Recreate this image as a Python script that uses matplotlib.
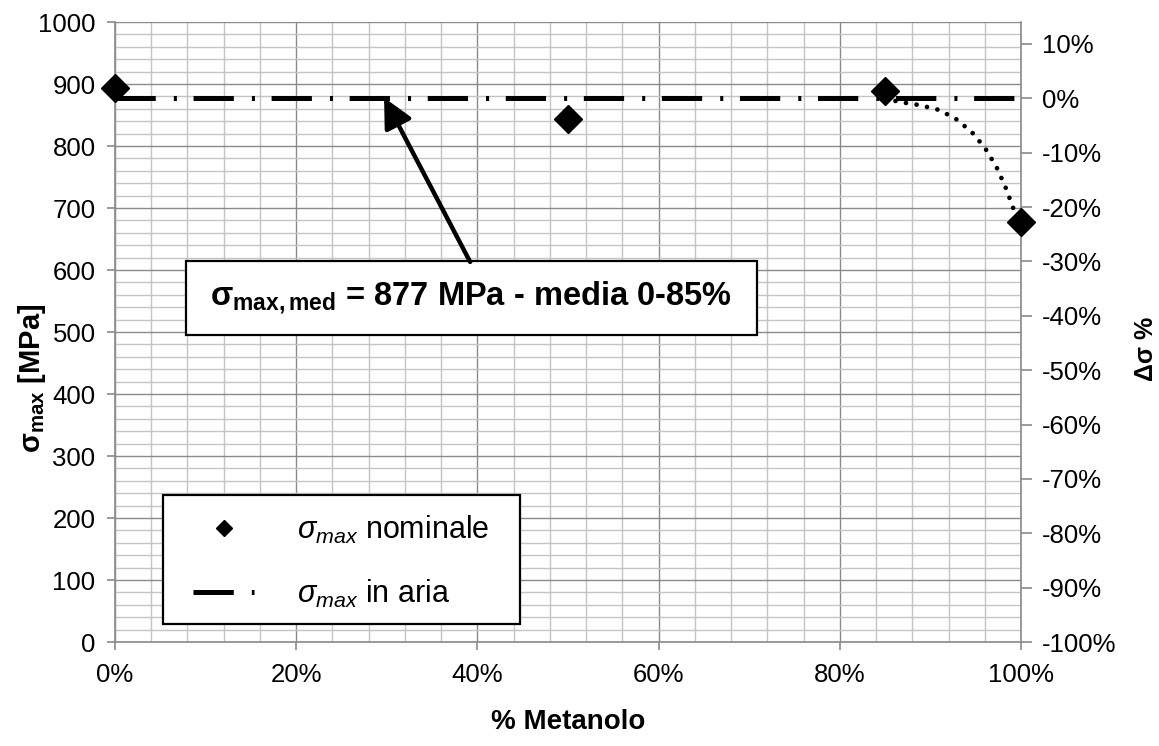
import matplotlib
matplotlib.use("Agg")
import matplotlib.pyplot as plt
from matplotlib.ticker import MultipleLocator, FuncFormatter
from matplotlib.patches import Rectangle
from matplotlib.lines import Line2D

plt.rcParams['font.family'] = ['Liberation Sans', 'DejaVu Sans']
plt.rcParams['mathtext.fontset'] = 'custom'
plt.rcParams['mathtext.rm'] = 'Liberation Sans'
plt.rcParams['mathtext.it'] = 'Liberation Sans:italic'
plt.rcParams['mathtext.bf'] = 'Liberation Sans:bold'
plt.rcParams['lines.scale_dashes'] = False

# ---- data ----
metanolo = [0, 50, 85, 100]                 # % methanol
sigma_nominale = [894, 844, 888, 677]       # MPa
sigma_aria = 877                            # MPa, mean 0-85%
aria_x = [0, 100]
trend_x = [85, 86.6, 88.8, 91.0, 93.0, 94.8, 96.2, 97.4, 98.3, 99.1, 100]
trend_y = [877, 871, 866, 858, 842, 819, 793, 763, 733, 702, 652]
x_ticks = [0, 20, 40, 60, 80, 100]
y_ticks = [0, 100, 200, 300, 400, 500, 600, 700, 800, 900, 1000]
dsig_ticks = [-100, -90, -80, -70, -60, -50, -40, -30, -20, -10, 0, 10]

W, H = 1159, 746
X0, X1, Y0, Y1 = 115, 1021, 642, 22       # plot area in pixels
AW, AH = X1 - X0, Y0 - Y1

def axc(px, py):
    return ((px - X0) / AW, (Y0 - py) / AH)

fig = plt.figure(figsize=(W/100, H/100), dpi=100)
ax = fig.add_axes([X0/W, 1-Y0/H, AW/W, AH/H])

ax.set_xlim(0, 100)
ax.set_ylim(0, 1000)
ax.set_xticks(x_ticks)
ax.set_yticks(y_ticks)
ax.xaxis.set_minor_locator(MultipleLocator(4))
ax.yaxis.set_minor_locator(MultipleLocator(20))
ax.xaxis.set_major_formatter(FuncFormatter(lambda v, p: f"{v:.0f}%"))
ax.grid(which='major', color='#8a8a8a', lw=1.0, zorder=0)
ax.grid(which='minor', color='#c4c4c4', lw=1.0, zorder=0)
ax.set_axisbelow(True)
ax.spines['top'].set_visible(False)
for s in ['left', 'bottom', 'right']:
    ax.spines[s].set_color('#8a8a8a')
    ax.spines[s].set_linewidth(1.2)
ax.tick_params(which='major', direction='out', length=6, width=1.2, color='#8a8a8a',
               labelsize=18.5, pad=8)
ax.tick_params(which='minor', length=0)
ax.tick_params(axis='x', pad=9)

# mean line (dash-dot)
dd = (0, (29, 13, 2.2, 12))
ax.plot(aria_x, [sigma_aria]*len(aria_x), color='black', lw=3.6, linestyle=dd,
        dash_capstyle='butt', zorder=3)
# dotted trend
ax.plot(trend_x, trend_y, color='black', lw=3.4, linestyle=(0, (0.01, 7.7)),
        dash_capstyle='round', zorder=3)
# diamonds
ax.plot(metanolo, sigma_nominale, linestyle='none', marker='D', markersize=14,
        color='black', zorder=4, clip_on=False)

ax.set_xlabel('% Metanolo', fontsize=20, fontweight='bold', labelpad=16)
ax.set_ylabel(r'$\mathbf{σ_{max}}$ [MPa]', fontsize=21, fontweight='bold')
ax.yaxis.set_label_coords(-0.074, 0.426)

# secondary axis
ax2 = ax.twinx()
ax2.set_ylim((0/sigma_aria - 1)*100, (1000/sigma_aria - 1)*100)
ax2.set_yticks(dsig_ticks)
ax2.yaxis.set_major_formatter(FuncFormatter(lambda v, p: f"{v:.0f}%"))
for s in ax2.spines.values():
    s.set_visible(False)
ax2.tick_params(direction='out', length=8, width=1.2, color='#8a8a8a', labelsize=18.5, pad=7)
ax2.set_ylabel('Δσ %', fontsize=18, fontweight='bold', rotation=90)
ax2.yaxis.set_label_coords((1134-X0)/AW, 0.4726)

# annotation box + arrow
bx0, by0 = axc(186, 335)
bx1, by1 = axc(757, 261)
ax.add_patch(Rectangle((bx0, by0), bx1-bx0, by1-by0, transform=ax.transAxes,
                       facecolor='white', edgecolor='black', lw=1.6, zorder=5))
tx, ty = axc(471, 298)
ax.text(tx, ty, r'$\mathbf{σ_{max,med}}$ = 877 MPa - media 0-85%',
        transform=ax.transAxes, ha='center', va='center', fontsize=23.5,
        fontweight='bold', zorder=6)
ax.annotate('', xy=(29.7, 878), xytext=(39.2, 613),
            arrowprops=dict(arrowstyle='-|>,head_length=0.9,head_width=0.45', lw=3.2,
                            color='black', shrinkA=0, shrinkB=0, mutation_scale=20),
            zorder=6)

# legend (frame drawn separately)
lx0, ly0 = axc(163, 624)
lx1, ly1 = axc(520, 495)
ax.add_patch(Rectangle((lx0, ly0), lx1-lx0, ly1-ly0, transform=ax.transAxes,
                       facecolor='white', edgecolor='black', lw=1.6, zorder=6))
h1 = Line2D([], [], linestyle='none', marker='D', markersize=8, color='black')
h2 = Line2D([], [], color='black', lw=3.6, linestyle=dd, dash_capstyle='butt')
leg = ax.legend([h1, h2], [r'$σ_{max}$ nominale', r'$σ_{max}$ in aria'],
                loc='upper left', bbox_to_anchor=axc(193, 514),
                fontsize=22, frameon=False, handlelength=2.0, handletextpad=1.4,
                labelspacing=1.03, borderpad=0, borderaxespad=0)
leg.set_zorder(7)

fig.savefig('out.png', dpi=100)
